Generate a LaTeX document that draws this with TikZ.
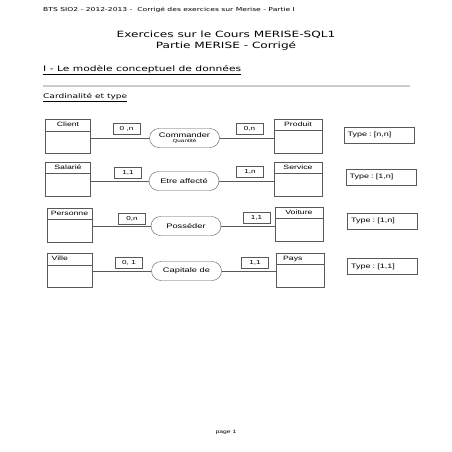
\documentclass[tikz,border=0pt]{standalone}
\usepackage{fontspec}
\setmainfont{Liberation Sans}[FakeStretch=1.41]
\newfontfamily\verd{DejaVu Sans}[FakeStretch=1.41]
\usetikzlibrary{positioning, shapes.misc}
\frenchspacing

\begin{document}
\begin{tikzpicture}[x=1pt, y=-1pt,
    entity/.style={draw=black!65, thin, minimum width=45pt, minimum height=34pt, inner sep=0pt},
    entname/.style={font=\fontsize{6.2}{7}\selectfont, inner sep=2.6pt, text height=4.8pt, text depth=1pt},
    relation/.style={draw=black!65, thin, rounded rectangle, minimum width=72pt, minimum height=19pt,
      inner sep=1pt, align=center, font=\fontsize{6.6}{7}\selectfont},
    card/.style={draw=black!65, thin, minimum width=27pt, minimum height=11pt, inner sep=0pt,
      font=\fontsize{5.8}{6}\selectfont},
    typebox/.style={draw=black!65, thin, minimum height=16pt, text width=63pt, inner xsep=3.5pt,
      inner ysep=0pt, align=left, font=\fontsize{6.4}{7}\selectfont},
    every edge/.style={draw=black!65, thin}
  ]
  \useasboundingbox (0,0) rectangle (452,452);

  % page header
  \node [anchor=west, inner sep=0pt, font=\verd\fontsize{5.4}{6}\selectfont] (head) at (43,10)
    {BTS SIO2 - 2012-2013 -~ Corrigé des exercices sur Merise - Partie I};
  \node [align=center, inner sep=0pt, font=\verd\fontsize{8.6}{10.5}\selectfont] (title) at (226,40.5)
    {Exercices sur le Cours MERISE-SQL1\\Partie MERISE - Corrigé};
  \node [anchor=west, inner sep=0pt, font=\verd\fontsize{7.6}{9}\selectfont] (part) at (43,70)
    {\underline{I - Le modèle conceptuel de données}};
  \draw [gray!40, line width=1.2pt] (43,86) -- (410,86);
  \node [anchor=west, inner sep=0pt, font=\verd\fontsize{6.4}{8}\selectfont] (sub) at (43,98)
    {\underline{Cardinalité et type}};

  % entities
  \node [entity, label={[entname, anchor=north, name=client-t]north:Client}] (client) at (68,136.5) {};
  \node [entity, label={[entname, anchor=north, name=salarie-t]north:Salarié}] (salarie) at (68,179) {};
  \node [entity, label={[entname, anchor=north, name=personne-t]north:Personne}] (personne) at (69.5,225) {};
  \node [entity, label={[entname, anchor=north west, xshift=2pt, name=ville-t]north west:Ville}] (ville) at (69.5,270.5) {};
  \node [entity, minimum width=48pt, label={[entname, anchor=north, name=produit-t]north:Produit}] (produit) at (298,136) {};
  \node [entity, minimum width=48pt, label={[entname, anchor=north, name=service-t]north:Service}] (service) at (298,179) {};
  \node [entity, minimum width=48pt, label={[entname, anchor=north, name=voiture-t]north:Voiture}] (voiture) at (299,224) {};
  \node [entity, minimum width=48pt, label={[entname, anchor=north west, xshift=4pt, name=pays-t]north west:Pays}] (pays) at (300.5,270) {};

  \foreach \e in {client, salarie, personne, ville, produit, service, voiture, pays}
    \draw [draw=black!65, thin] (\e.west |- \e-t.south) -- (\e.east |- \e-t.south);

  % relations
  \node [relation] (commander) at (184.5,138) {Commander\\[-2.5pt]{\fontsize{4.5}{5}\selectfont Quantité}};
  \node [relation] (affecte) at (184,181) {Etre affecté};
  \node [relation] (posseder) at (186,226) {Posséder};
  \node [relation] (capitale) at (186.5,271) {Capitale de};

  \path (client.east |- commander.center) edge (commander.west);
  \path (commander.east) edge (commander.east -| produit.west);
  \path (salarie.east |- affecte.center) edge (affecte.west);
  \path (affecte.east) edge (affecte.east -| service.west);
  \path (personne.east |- posseder.center) edge (posseder.west);
  \path (posseder.east) edge (posseder.east -| voiture.west);
  \path (ville.east |- capitale.center) edge (capitale.west);
  \path (capitale.east) edge (capitale.east -| pays.west);

  % cardinalities
  \node [card] (c1l) at (126.5,129) {0 ,n};
  \node [card] (c1r) at (249.5,129) {0,n};
  \node [card] (c2l) at (128,173) {1,1};
  \node [card] (c2r) at (250,171.5) {1,n};
  \node [card] (c3l) at (132,218.5) {0,n};
  \node [card] (c3r) at (256.5,217.5) {1,1};
  \node [card] (c4l) at (129,263) {0, 1};
  \node [card] (c4r) at (255,262.5) {1,1};

  % types
  \node [typebox] (t1) at (379,135) {Type : [n,n]};
  \node [typebox] (t2) at (381,177) {Type : [1,n]};
  \node [typebox] (t3) at (382.5,221) {Type : [1,n]};
  \node [typebox] (t4) at (382.5,266.5) {Type : [1,1]};

  \node [font=\fontsize{4.8}{5}\selectfont, inner sep=0pt] (page) at (226,432) {page 1};
\end{tikzpicture}
\end{document}
